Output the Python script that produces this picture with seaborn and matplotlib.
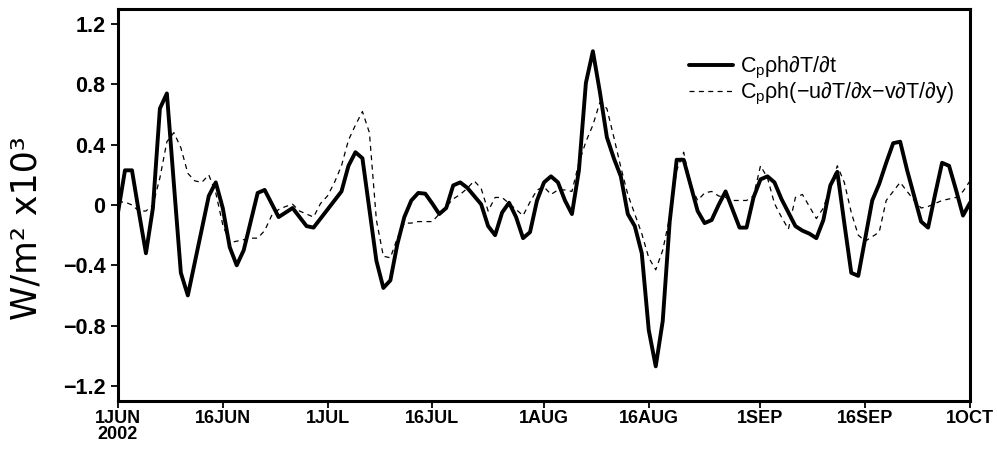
import numpy as np
import pandas as pd
import matplotlib
matplotlib.use("Agg")
import matplotlib.pyplot as plt
import seaborn as sns

# ---- data (daily, 1 Jun 2002 .. 1 Oct 2002) ----
start_date = "2002-06-01"
tendency = [
    -0.05, 0.23, 0.23, -0.05, -0.32, -0.02, 0.64, 0.74, 0.14, -0.45,
    -0.60, -0.38, -0.16, 0.06, 0.15, -0.02, -0.28, -0.40, -0.30, -0.11,
    0.08, 0.10, 0.01, -0.08, -0.05, -0.02, -0.08, -0.14, -0.15, -0.09,
    -0.03, 0.03, 0.09, 0.26, 0.35, 0.31, -0.03, -0.37, -0.55, -0.50,
    -0.26, -0.08, 0.03, 0.08, 0.075, 0.01, -0.06, -0.02, 0.13, 0.15,
    0.115, 0.06, 0.005, -0.14, -0.20, -0.05, 0.015, -0.08, -0.22, -0.18,
    0.03, 0.15, 0.19, 0.15, 0.03, -0.06, 0.23, 0.81, 1.02, 0.75,
    0.45, 0.31, 0.19, -0.06, -0.14, -0.32, -0.83, -1.07, -0.77, -0.11,
    0.30, 0.30, 0.13, -0.04, -0.12, -0.10, 0.00, 0.09, -0.03, -0.15,
    -0.15, 0.05, 0.17, 0.19, 0.15, 0.04, -0.05, -0.14, -0.17, -0.19,
    -0.22, -0.10, 0.13, 0.22, -0.12, -0.45, -0.47, -0.22, 0.03, 0.14,
    0.28, 0.41, 0.42, 0.23, 0.06, -0.11, -0.15, 0.07, 0.28, 0.26,
    0.10, -0.07, 0.015,
]
advection = [
    0.02, 0.02, 0.00, -0.04, -0.04, 0.00, 0.18, 0.42, 0.48, 0.38,
    0.21, 0.16, 0.15, 0.20, 0.08, -0.13, -0.25, -0.24, -0.23, -0.22,
    -0.22, -0.17, -0.07, -0.03, -0.01, 0.005, -0.04, -0.06, -0.08, 0.01,
    0.06, 0.15, 0.26, 0.43, 0.53, 0.62, 0.48, -0.10, -0.34, -0.35,
    -0.22, -0.12, -0.12, -0.11, -0.11, -0.11, -0.06, -0.01, 0.04, 0.07,
    0.11, 0.16, 0.11, -0.04, 0.05, 0.05, 0.01, -0.03, -0.07, 0.02,
    0.10, 0.12, 0.07, 0.10, 0.10, 0.09, 0.28, 0.42, 0.53, 0.68,
    0.64, 0.45, 0.25, 0.07, -0.06, -0.19, -0.35, -0.43, -0.30, -0.08,
    0.23, 0.35, 0.13, 0.03, 0.08, 0.09, 0.06, 0.05, 0.03, 0.03,
    0.03, 0.06, 0.26, 0.18, 0.01, -0.08, -0.16, 0.05, 0.07, -0.01,
    -0.09, -0.02, 0.12, 0.26, 0.15, -0.05, -0.20, -0.24, -0.21, -0.18,
    0.03, 0.09, 0.15, 0.09, 0.03, -0.02, -0.01, 0.01, 0.03, 0.04,
    0.05, 0.09, 0.16,
]
series_labels = [r"C$_p$ρh∂T/∂t", r"C$_p$ρh(−u∂T/∂x−v∂T/∂y)"]
tick_dates = ["2002-06-01", "2002-06-16", "2002-07-01", "2002-07-16", "2002-08-01",
              "2002-08-16", "2002-09-01", "2002-09-16", "2002-10-01"]
tick_labels = ["1JUN\n2002", "16JUN", "1JUL", "16JUL", "1AUG", "16AUG", "1SEP", "16SEP", "1OCT"]
y_ticks = [-1.2, -0.8, -0.4, 0, 0.4, 0.8, 1.2]
y_tick_labels = ["−1.2", "−0.8", "−0.4", "0", "0.4", "0.8", "1.2"]

dates = pd.date_range(start_date, periods=len(tendency), freq="D")
df = pd.DataFrame({"date": dates, "tend": tendency, "adv": advection})

sns.set_style("ticks")
plt.rcParams["font.family"] = ["Liberation Sans", "DejaVu Sans"]
plt.rcParams["mathtext.fontset"] = "custom"
plt.rcParams["mathtext.rm"] = "Liberation Sans"
plt.rcParams["mathtext.it"] = "Liberation Sans"
for key in ["text.color", "axes.edgecolor", "axes.labelcolor", "xtick.color", "ytick.color"]:
    plt.rcParams[key] = "black"

W, H = 997, 451
fig = plt.figure(figsize=(W / 100, H / 100), dpi=100)
ax = fig.add_axes([118 / W, (H - 401) / H, 852 / W, 392 / H])

sns.lineplot(data=df, x="date", y="tend", ax=ax, color="black", lw=2.8,
             label=series_labels[0])
sns.lineplot(data=df, x="date", y="adv", ax=ax, color="black", lw=0.9,
             linestyle=(0, (4, 3.5)), label=series_labels[1])

ax.set_xlim(pd.Timestamp(tick_dates[0]), pd.Timestamp(tick_dates[-1]))
ax.set_ylim(-1.3, 1.3)
ax.set_xticks([pd.Timestamp(d) for d in tick_dates])
ax.set_xticklabels(tick_labels, fontsize=13, fontweight="bold", linespacing=0.9)
ax.set_yticks(y_ticks)
ax.set_yticklabels(y_tick_labels, fontsize=15.5, fontweight="bold")
ax.set_xlabel("")
ax.set_ylabel("W/m² x10³", fontsize=25, family="DejaVu Sans")
ax.yaxis.set_label_coords(-0.087, 0.44)

for s in ax.spines.values():
    s.set_visible(True)
    s.set_linewidth(2.2)
    s.set_color("black")
ax.tick_params(axis="both", direction="out", length=5, width=1.3)
ax.tick_params(axis="x", pad=1.5)
ax.tick_params(axis="y", pad=4)

leg = ax.legend(loc="upper right", bbox_to_anchor=(0.991, 0.905), frameon=False,
                fontsize=15.5, handlelength=2.05, handletextpad=0.3,
                labelspacing=0.0, borderaxespad=0)

fig.savefig("out.png", dpi=100)
